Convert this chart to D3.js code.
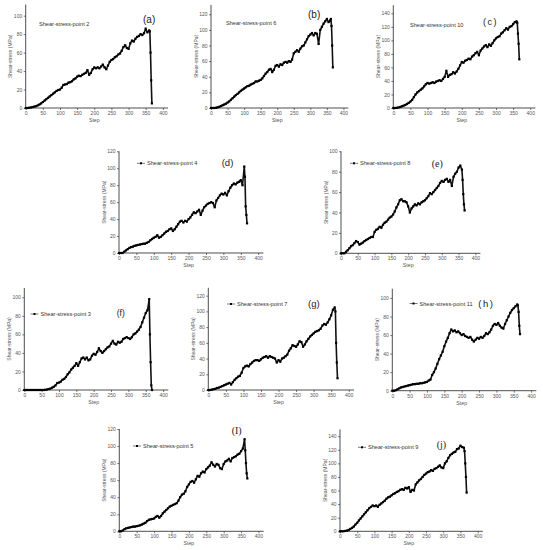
<!DOCTYPE html>
<html>
<head>
<meta charset="utf-8">
<script src="https://cdn.jsdelivr.net/npm/d3@7"></script>
<style>
  body { margin: 0; background: #fff; }
  svg text { font-family: "Liberation Sans", Arial, sans-serif; }
</style>
</head>
<body>
<div id="chart"></div>
<script>
// sampled steps (every 5) and the steps of the final drop
var steps = [0,5,10,15,20,25,30,35,40,45,50,55,60,65,70,75,80,85,90,95,
  100,105,110,115,120,125,130,135,140,145,150,155,160,165,170,175,180,185,190,195,
  200,205,210,215,220,225,230,235,240,245,250,255,260,265,270,275,280,285,290,295,
  300,305,310,315,320,325,330,335,340,345,350,355,360];
var tailSteps = [362, 364, 366, 368];
var xTicks = [0, 50, 100, 150, 200, 250, 300, 350, 400];

// shear stress (MPa)
var point2 = [0,0,0.3,0.6,1,1.5,2,2.8,3.8,5, 6.5,8,9.5,11,12.5,14,15.5,17,18.5,19.5,
  20,22,25,25.5,26,27.5,28,29,31,32, 34,35,34.5,36,37,38,41,36,38,42,
  44,43,44,43,45,47,44,42,46,50, 52,53,55,56,58,59,62,66,68,65,
  64,70,73,72,75,77,78,80,79,81, 86,82,84];
var point2Tail = [83, 60, 30, 5];

var point6 = [0,0,0,0.3,0.8,1.5,2.5,3.5,4.5,5.5, 7,8.5,10.5,12.5,14.5,16.5,18,20,22,23.5,
  25,26.5,28,28.5,30,31,32,34,34,35, 36,38,41,44,46,49,50,46,49,54,
  55,53,56,55,58,59,58,60,59,62, 70,72,74,72,76,79,80,84,88,92,
  94,96,93,96,95,82,100,104,108,111, 114,110,112];
var point6Tail = [114, 105, 80, 52];

var point10 = [0,0,0.3,0.8,1.5,2.5,3.5,4.5,6,7.5, 9.5,12,16,20,23,25,27,29,32,35,
  37,36,37,38,37,39,40,41,40,43, 46,55,46,49,50,53,51,54,58,63,
  68,67,70,71,73,72,76,78,81,83, 78,85,88,91,93,90,94,92,96,100,
  103,105,106,110,112,115,118,116,120,121, 124,127,128];
var point10Tail = [126, 110, 95, 72];

var point4 = [0,0,0,1.5,3,4.5,6,7,7.5,8.5, 9,9.5,10,10.5,11,11,12,13,15,16.5,
  18,19,21,18,19,21,23,25,26,28, 29,26,28,31,34,37,38,36,38,37,
  40,42,45,48,47,49,51,45,50,54, 56,58,59,60,59,54,62,65,68,70,
  69,71,68,73,77,80,82,81,83,84, 86,80,102];
var point4Tail = [90, 55, 45, 35];

var point8 = [0,0,0,1.5,3,5,7,8,10,12, 11,8.5,9.5,10.5,12,13,14,15,16,16,
  21,23,24,26,25,28,30,31,33,35, 36,38,41,45,48,52,53,51,51,50,
  46,40,44,46,48,47,49,48,50,51, 52,54,56,59,58,60,62,64,66,69,
  71,70,72,73,70,72,66,75,78,80, 84,86,82];
var point8Tail = [72, 58, 48, 42];

var point3 = [0,0,0,0,0,0,0,0,0,0, 0,0,0.2,0.5,1,1.5,2.5,3.5,5,7.5,
  8,9,11,12,14,17,19,22,24,26, 29,26,30,34,35,33,35,32,33,37,
  39,38,41,45,42,40,42,44,46,47, 50,53,50,49,52,51,52,55,56,57,
  56,55,57,60,61,63,65,68,73,78, 83,86,98];
var point3Tail = [60, 30, 5, 0];

var point7 = [0,0,0.5,1,1.5,2.5,3,4,5,6, 7,8,9,7,10,13,15,17,18,22,
  28,30,31,30,33,35,37,38,38,37, 39,41,42,43,41,43,42,41,40,35,
  38,36,40,41,43,45,50,53,57,56, 55,58,62,61,55,58,62,65,68,70,
  72,74,75,76,78,82,84,83,86,90, 95,102,105];
var point7Tail = [100, 60, 35, 15];

var point11 = [0,0,0.5,1.5,2.5,3.5,4,4.5,5,5.5, 6,6.5,7,7,7.5,7.5,8,8,8.5,9,
  9.5,11,12,17,20,24,29,34,38,42, 48,53,57,62,66,64,65,63,64,62,
  60,61,59,58,57,58,55,53,55,57, 56,58,57,59,62,61,63,66,70,72,
  71,73,70,68,67,72,76,80,84,87, 89,91,93];
var point11Tail = [92, 85, 70, 61];

var point5 = [0,0,1,2.5,3.5,4,4.5,5,5.5,5.5, 6,6.5,7,8,9,10,12,13.5,14,14.5,
  15,17,18,16,18,21,23,25,27,29, 30,31,32,33,36,40,43,44,47,52,
  55,58,59,57,61,65,64,68,70,69, 73,75,77,81,78,76,79,78,74,73,
  79,82,83,85,82,86,87,88,90,91, 94,97,108];
var point5Tail = [95, 80, 68, 62];

var point9 = [0,0,0,0.5,1,2,3.5,5,7,10, 12.5,16,19,22,25,28,31,34,36,38,
  37,38,36,39,41,43,45,48,50,51, 53,55,56,58,59,61,62,61,64,63,
  65,58,61,60,69,72,75,77,80,83, 85,87,88,90,89,92,93,95,97,94,
  93,100,103,108,112,114,116,117,121,122, 126,124,123];
var point9Tail = [118, 100, 80, 57];

var svg = d3.select("#chart")
    .append("svg")
    .attr("width", 543)
    .attr("height", 550);

// panel frames: left / right / bottom / top in px, plus y max
var panels = [
  { vals: point2, tail: point2Tail, name: "Shear-stress-point 2", tag: "(a)", l: 25.7, r: 168, b: 108, t: 4.6, ymax: 112,
    leg: [39, 24.3], mark: false, lab: [143, 19], serif: false, fs: 10 },
  { vals: point6, tail: point6Tail, name: "Shear-stress-point 6", tag: "(b)", l: 211, r: 348.4, b: 108, t: 4.9, ymax: 132,
    leg: [226, 22.5], mark: false, lab: [308, 14], serif: false, fs: 10 },
  { vals: point10, tail: point10Tail, name: "Shear-stress-point 10", tag: "(c)", l: 393.3, r: 535.4, b: 108, t: 5.2, ymax: 152,
    leg: [410, 24.5], mark: false, lab: [483, 22], serif: false, fs: 9 },
  { vals: point4, tail: point4Tail, name: "Shear-stress-point 4", tag: "(d)", l: 119, r: 263.4, b: 253, t: 151.3, ymax: 120,
    leg: [137, 163.3], mark: true, lab: [221.7, 162], serif: false, fs: 9.5 },
  { vals: point8, tail: point8Tail, name: "Shear-stress-point 8", tag: "(e)", l: 341, r: 480.4, b: 253.3, t: 151.3, ymax: 100,
    leg: [350, 163.3], mark: true, lab: [431.7, 163], serif: true, fs: 10 },
  { vals: point3, tail: point3Tail, name: "Shear-stress-point 3", tag: "(f)", l: 24.3, r: 168.3, b: 390, t: 288, ymax: 110,
    leg: [30.5, 314], mark: true, lab: [116.7, 313], serif: false, fs: 8.5 },
  { vals: point7, tail: point7Tail, name: "Shear-stress-point 7", tag: "(g)", l: 208.3, r: 354, b: 390, t: 287.8, ymax: 130,
    leg: [227, 304], mark: true, lab: [308, 303.3], serif: false, fs: 9.5 },
  { vals: point11, tail: point11Tail, name: "Shear-stress-point 11", tag: "(h)", l: 392.3, r: 536.3, b: 390.7, t: 288.7, ymax: 110,
    leg: [409.5, 303.5], mark: true, lab: [478.3, 303], serif: false, fs: 9.5 },
  { vals: point5, tail: point5Tail, name: "Shear-stress-point 5", tag: "(I)", l: 119.3, r: 263.7, b: 531.3, t: 429, ymax: 120,
    leg: [133, 446], mark: true, lab: [231.7, 430], serif: true, fs: 10 },
  { vals: point9, tail: point9Tail, name: "Shear-stress-point 9", tag: "(j)", l: 340, r: 482.8, b: 531.3, t: 429.4, ymax: 150,
    leg: [358, 447.3], mark: true, lab: [436.7, 444.3], serif: true, fs: 10 }
];

panels.forEach(function (p) {
    var g = svg.append("g");

    var x = d3.scaleLinear().domain([0, 415]).range([p.l, p.r]);
    var y = d3.scaleLinear().domain([0, p.ymax]).range([p.b, p.t]);

    var xAxis = g.append("g")
        .attr("transform", "translate(0," + p.b + ")")
        .call(d3.axisBottom(x).tickValues(xTicks).tickSize(2).tickPadding(1.5).tickSizeOuter(0));
    var yAxis = g.append("g")
        .attr("transform", "translate(" + p.l + ",0)")
        .call(d3.axisLeft(y).tickValues(d3.range(0, p.ymax + 0.01, 20)).tickSize(2).tickPadding(1.5).tickSizeOuter(0));

    [xAxis, yAxis].forEach(function (a) {
        a.selectAll("path").attr("stroke", "#222").attr("stroke-width", 0.8)
            .attr("d", a === xAxis ? "M" + p.l + ",0H" + p.r : "M0," + p.b + "V" + p.t);
        a.selectAll("line").attr("stroke", "#222").attr("stroke-width", 0.6);
        a.selectAll("text").attr("font-size", 5).attr("fill", "#555")
            .attr("font-family", "Liberation Sans, Arial, sans-serif");
    });

    // axis titles
    g.append("text")
        .attr("x", (p.l + x(400)) / 2)
        .attr("y", p.b + 14)
        .attr("text-anchor", "middle")
        .attr("font-size", 5.2)
        .attr("fill", "#555")
        .text("Step");
    g.append("text")
        .attr("transform", "translate(" + (p.l - 13.5) + "," + ((p.b + p.t) / 2) + ") rotate(-90)")
        .attr("text-anchor", "middle")
        .attr("font-size", 5)
        .attr("fill", "#555")
        .text("Shear-stress (MPa)");

    // series
    var pts = p.vals.map(function (v, i) { return [steps[i], v]; })
        .concat(p.tail.map(function (v, i) { return [tailSteps[i], v]; }));

    var line = d3.line()
        .x(function (d) { return x(d[0]); })
        .y(function (d) { return y(d[1]); });

    g.append("path")
        .datum(pts)
        .attr("d", line)
        .attr("fill", "none")
        .attr("stroke", "#111")
        .attr("stroke-width", 1.6)
        .attr("stroke-linejoin", "round");

    g.selectAll(".pt")
        .data(pts)
        .enter()
        .append("rect")
        .attr("x", function (d) { return x(d[0]) - 1.1; })
        .attr("y", function (d) { return y(d[1]) - 1.1; })
        .attr("width", 2.2)
        .attr("height", 2.2)
        .attr("fill", "#000");

    // legend
    var lx = p.leg[0], ly = p.leg[1];
    if (p.mark) {
        g.append("line")
            .attr("x1", lx).attr("x2", lx + 8)
            .attr("y1", ly).attr("y2", ly)
            .attr("stroke", "#222").attr("stroke-width", 0.6);
        g.append("rect")
            .attr("x", lx + 3).attr("y", ly - 1)
            .attr("width", 2).attr("height", 2)
            .attr("fill", "#000");
        lx += 10;
    }
    g.append("text")
        .attr("x", lx)
        .attr("y", ly)
        .attr("dominant-baseline", "central")
        .attr("font-size", 5.6)
        .attr("fill", "#333")
        .text(p.name);

    g.append("text")
        .attr("x", p.lab[0])
        .attr("y", p.lab[1])
        .attr("dominant-baseline", "central")
        .attr("font-size", p.fs)
        .attr("fill", "#222")
        .attr("letter-spacing", p.tag === "(c)" || p.tag === "(h)" ? 1.5 : 0)
        .style("font-family", p.serif ? "Liberation Serif, serif" : "Liberation Sans, Arial, sans-serif")
        .text(p.tag);
});
</script>
</body>
</html>
